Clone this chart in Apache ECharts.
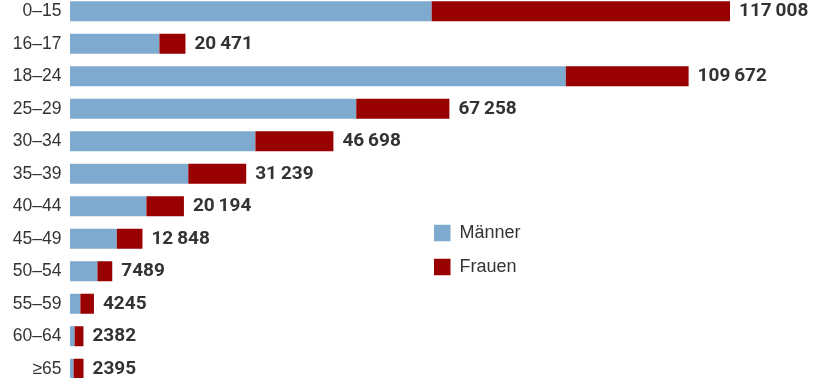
<!DOCTYPE html>
<html><head><meta charset="utf-8">
<script src="https://cdn.jsdelivr.net/npm/echarts@6/dist/echarts.min.js"></script>
<style>html,body{margin:0;padding:0;background:#fff;overflow:hidden;width:825px;height:378px}
#c{position:absolute;left:0;top:-5px;width:825px;height:390px}</style>
</head><body><div id="c"></div>
<script>
const categories = ['0–15','16–17','18–24','25–29','30–34','35–39','40–44','45–49','50–54','55–59','60–64','≥65'];
const totals = [117008, 20471, 109672, 67258, 46698, 31239, 20194, 12848, 7489, 4245, 2382, 2395];
const maenner = [64120, 15850, 87900, 50750, 32870, 20970, 13548, 8302, 4868, 1839, 814, 636];
const frauen = [52888, 4621, 21772, 16508, 13828, 10269, 6646, 4546, 2621, 2406, 1568, 1759];

function fmt(v){
  const s = String(v);
  if (v < 10000) return s;
  return s.slice(0, s.length-3) + '\u2009' + s.slice(-3);
}
const chart = echarts.init(document.getElementById('c'), null, {renderer:'canvas'});
chart.setOption({
  animation:false,
  grid:{left:70, right:95, top:0, bottom:0, containLabel:false},
  xAxis:{type:'value', min:0, max:Math.max.apply(null, totals), show:false},
  yAxis:{type:'category', data:categories, inverse:true,
    axisLine:{show:false}, axisTick:{show:false},
    axisLabel:{margin:8.5, color:'#333', fontSize:17.5, fontFamily:'Liberation Sans'}},
  legend:{orient:'vertical', left:434, top:229, padding:0, itemWidth:16.5, itemHeight:16.5, itemGap:16,
    icon:'rect', textStyle:{color:'#333', fontSize:18, lineHeight:16.5, fontFamily:'Liberation Sans', padding:[0,0,0,4]},
    data:['Männer','Frauen']},
  series:[
    {name:'Männer', type:'bar', stack:'a', data:maenner, barWidth:20,
      itemStyle:{color:'#7faacf'}},
    {name:'Frauen', type:'bar', stack:'a', data:frauen, barWidth:20,
      itemStyle:{color:'#990000'},
      label:{show:true, position:'right', distance:9, color:'#333', fontSize:19,
        fontWeight:'bold', fontFamily:'Roboto',
        formatter:p => fmt(totals[p.dataIndex])}}
  ]
});
</script></body></html>
